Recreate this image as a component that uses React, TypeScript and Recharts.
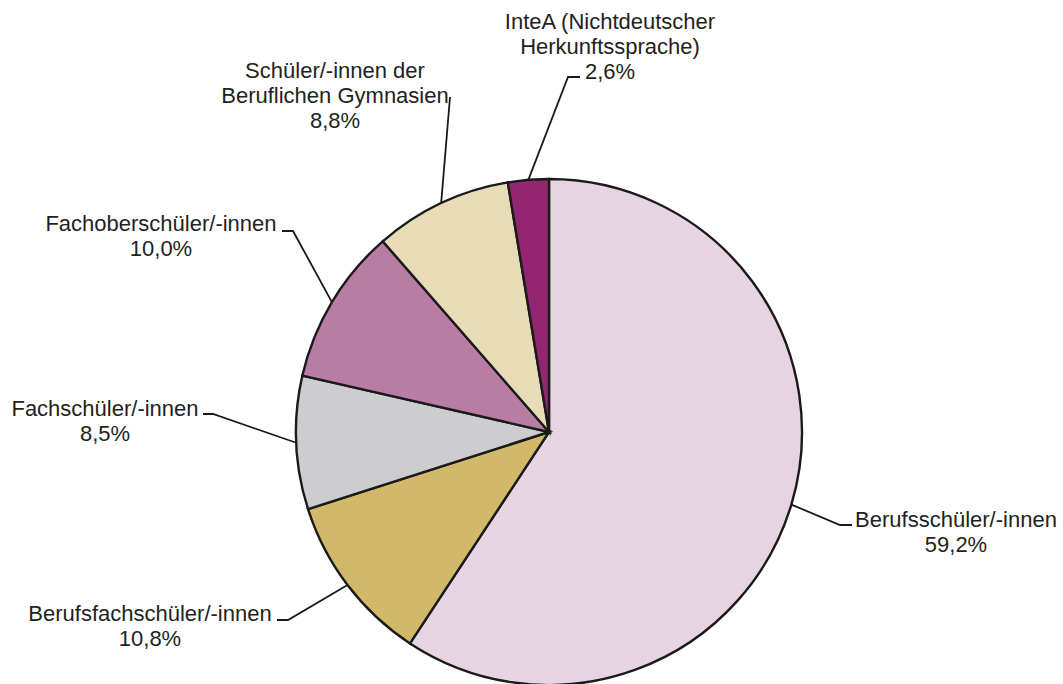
import React from "react";
import { PieChart, Pie, Cell } from "recharts";

// Anteile der Schülerinnen und Schüler nach Schulart (in %)
const CATEGORIES = [
  "Berufsschüler/-innen",
  "Berufsfachschüler/-innen",
  "Fachschüler/-innen",
  "Fachoberschüler/-innen",
  "Schüler/-innen der Beruflichen Gymnasien",
  "InteA (Nichtdeutscher Herkunftssprache)",
];

const SHARES = [59.2, 10.8, 8.5, 10.0, 8.8, 2.6];

// how the label text is broken into lines
const LABEL_LINES = [
  ["Berufsschüler/-innen"],
  ["Berufsfachschüler/-innen"],
  ["Fachschüler/-innen"],
  ["Fachoberschüler/-innen"],
  ["Schüler/-innen der", "Beruflichen Gymnasien"],
  ["InteA (Nichtdeutscher", "Herkunftssprache)"],
];

const COLORS = ["#e6d4e3", "#d2b96a", "#cdcdcf", "#b97ca5", "#e8dbb8", "#932670"];

// label placement: elbow point, end of short horizontal tick, text centre, first line y
const LABEL_LAYOUT = [
  { ex: 840, ey: 525, hx: 852, tx: 956, ty: 519 },
  { ex: 288, ey: 620, hx: 277, tx: 150, ty: 613 },
  { ex: 213, ey: 414, hx: 203, tx: 105, ty: 408 },
  { ex: 293, ey: 231, hx: 282, tx: 161, ty: 223 },
  { ex: 450, ey: 97, hx: 450, tx: 335, ty: 70 },
  { ex: 568, ey: 77, hx: 580, tx: 610, ty: 21 },
];

const data = CATEGORIES.map((name, i) => ({ name, value: SHARES[i] }));

const RAD = Math.PI / 180;
const LINE_H = 25;

const fmt = (v: number) => v.toFixed(1).replace(".", ",") + "%";

const renderLabel = (props: any) => {
  const { cx, cy, midAngle, outerRadius, index } = props;
  const lay = LABEL_LAYOUT[index];
  const sx = cx + outerRadius * Math.cos(-midAngle * RAD);
  const sy = cy + outerRadius * Math.sin(-midAngle * RAD);
  const lines = [...LABEL_LINES[index], fmt(SHARES[index])];
  return (
    <g key={`lbl-${index}`}>
      <polyline
        points={`${sx},${sy} ${lay.ex},${lay.ey} ${lay.hx},${lay.ey}`}
        fill="none"
        stroke="#1a1a1a"
        strokeWidth={1.8}
      />
      <text
        x={lay.tx}
        y={lay.ty}
        textAnchor="middle"
        dominantBaseline="central"
        fill="#231f20"
        fontSize={22}
        fontFamily="'Liberation Sans', Arial, sans-serif"
      >
        {lines.map((l, i) => (
          <tspan key={i} x={lay.tx} y={lay.ty + i * LINE_H}>
            {l}
          </tspan>
        ))}
      </text>
    </g>
  );
};

export default function App() {
  return (
    <div style={{ position: "absolute", left: 0, top: 0, background: "#fff" }}>
      <PieChart
        width={1063}
        height={684}
        margin={{ top: 0, right: 0, bottom: 0, left: 0 }}
      >
        <Pie
          data={data}
          dataKey="value"
          nameKey="name"
          cx={549}
          cy={432}
          outerRadius={253}
          startAngle={90}
          endAngle={-270}
          stroke="#1a1a1a"
          strokeWidth={2.4}
          labelLine={false}
          label={renderLabel}
          isAnimationActive={false}
        >
          {data.map((d, i) => (
            <Cell key={d.name} fill={COLORS[i]} />
          ))}
        </Pie>
      </PieChart>
    </div>
  );
}
